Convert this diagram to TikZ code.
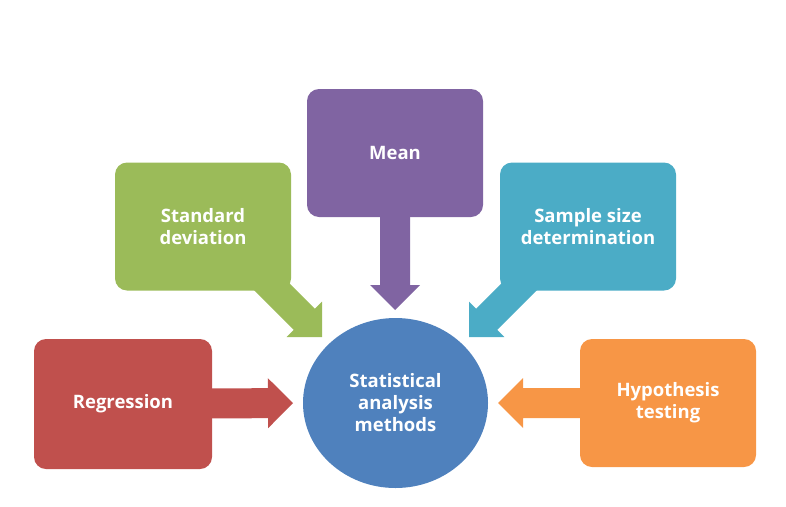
\documentclass[tikz,border=0pt]{standalone}
\usepackage{fontspec}
\setmainfont{Open Sans}
\usetikzlibrary{positioning}
\usetikzlibrary{calc}
\usetikzlibrary{shapes.geometric}
\usetikzlibrary{backgrounds}

\definecolor{hubblue}{HTML}{4F81BD}
\definecolor{meanpurple}{HTML}{8064A2}
\definecolor{sdgreen}{HTML}{9BBB59}
\definecolor{sampleteal}{HTML}{4BACC6}
\definecolor{regred}{HTML}{C0504D}
\definecolor{hyporange}{HTML}{F79646}

\begin{document}
\begin{tikzpicture}[x=1pt,y=-1pt]
		\tikzset{topic/.style = {rectangle, rounded corners=12pt, minimum width=176pt, minimum height=128pt, text=white, align=center, font=\bfseries\fontsize{18.5}{22}\selectfont}}
		\tikzset{hub/.style = {ellipse, fill=hubblue, minimum width=185pt, minimum height=170pt, text=white, align=center, font=\bfseries\fontsize{18.5}{22}\selectfont}}
		\useasboundingbox (0,0) rectangle (786,506);
		\node[hub] (S) at (395.5,403) {Statistical\\analysis\\methods};
		\node[topic, fill=meanpurple] (M) at (395,153) {Mean};
		\node[topic, fill=sdgreen] (D) at (203,226.5) {Standard\\deviation};
		\node[topic, fill=sampleteal] (N) at (588,226.5) {Sample size\\determination};
		\node[topic, fill=regred, minimum width=178pt, minimum height=130pt] (R) at (123,404) {Regression};
		\node[topic, fill=hyporange] (H) at (668,403) {Hypothesis\\testing};
		% start and tip of each arrow
		\coordinate (Ms) at (M.center);
		\coordinate (Ds) at ($(D.center)+(0,-8.5)$);
		\coordinate (Ns) at ($(N.center)+(0,-8.5)$);
		\coordinate (Rs) at (R.center);
		\coordinate (Hs) at (H.center);
		\coordinate (Mt) at (395,310);
		\coordinate (Dt) at (322,337);
		\coordinate (Nt) at (469,337);
		\coordinate (Rt) at (293,403);
		\coordinate (Ht) at (498,403);
		% fat arrows towards the hub
		\begin{scope}[on background layer]
		\foreach \b/\c in {M/meanpurple, D/sdgreen, N/sampleteal, R/regred, H/hyporange} {
			\coordinate (h) at ($(\b t)!25pt!(\b s)$);
			\fill[\c] ($(\b s)!15pt!90:(\b t)$) -- ($(h)!15pt!90:(\b t)$) -- ($(h)!25pt!90:(\b t)$) -- (\b t)
				-- ($(h)!25pt!-90:(\b t)$) -- ($(h)!15pt!-90:(\b t)$) -- ($(\b s)!15pt!-90:(\b t)$) -- cycle;
		}
		\end{scope}
	\end{tikzpicture}
\end{document}
